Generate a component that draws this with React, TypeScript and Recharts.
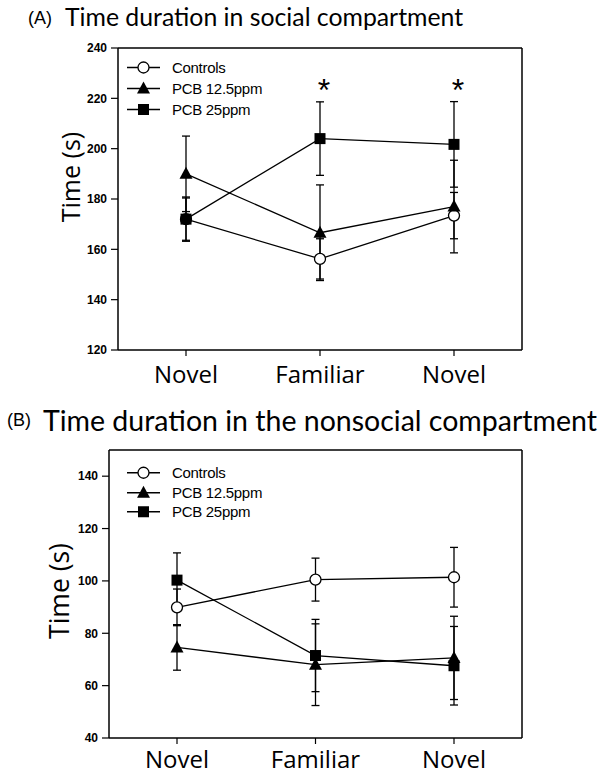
import React from 'react';
import { LineChart, Line, XAxis, YAxis, ErrorBar, CartesianGrid, Legend } from 'recharts';

const categories = ['Novel', 'Familiar', 'Novel'];
const seriesNames = ['Controls', 'PCB 12.5ppm', 'PCB 25ppm'];

// Panel A: social compartment
const socialControls = [172, 156.2, 173.4];
const socialControlsErr = [8.8, 8, 9.2];
const socialPcb125 = [190, 166.6, 177];
const socialPcb125Err = [15, 19, 18.4];
const socialPcb25 = [172, 204, 201.7];
const socialPcb25Err = [8.4, 14.6, 17];
const socialStars = [null, 226, 226];
const socialDomain = [120, 240];
const socialTicks = [120, 140, 160, 180, 200, 220, 240];

// Panel B: nonsocial compartment
const nonsocialControls = [89.9, 100.5, 101.4];
const nonsocialControlsErr = [7, 8.2, 11.4];
const nonsocialPcb125 = [74.6, 68, 70.6];
const nonsocialPcb125Err = [8.7, 15.6, 15.9];
const nonsocialPcb25 = [100.3, 71.5, 67.6];
const nonsocialPcb25Err = [10.4, 13.8, 15];
const nonsocialDomain = [40, 150];
const nonsocialTicks = [40, 60, 80, 100, 120, 140];

const dataA = categories.map((c, i) => ({
  cat: c,
  ctl: socialControls[i], ctlErr: socialControlsErr[i],
  p125: socialPcb125[i], p125Err: socialPcb125Err[i],
  p25: socialPcb25[i], p25Err: socialPcb25Err[i],
  star: socialStars[i],
}));

const dataB = categories.map((c, i) => ({
  cat: c,
  ctl: nonsocialControls[i], ctlErr: nonsocialControlsErr[i],
  p125: nonsocialPcb125[i], p125Err: nonsocialPcb125Err[i],
  p25: nonsocialPcb25[i], p25Err: nonsocialPcb25Err[i],
}));

const CircleDot = (p: any) =>
  p.cx == null || p.cy == null ? null : (
    <circle key={p.key} cx={p.cx} cy={p.cy} r={5.5} fill="#fff" stroke="#000" strokeWidth={1.3} />
  );
const TriDot = (p: any) =>
  p.cx == null || p.cy == null ? null : (
    <polygon key={p.key} points={`${p.cx},${p.cy - 7} ${p.cx - 6.5},${p.cy + 5} ${p.cx + 6.5},${p.cy + 5}`} fill="#000" />
  );
const SqDot = (p: any) =>
  p.cx == null || p.cy == null ? null : (
    <rect key={p.key} x={p.cx - 5.5} y={p.cy - 5.5} width={11} height={11} fill="#000" />
  );
const StarDot = (p: any) =>
  p.cx == null || p.cy == null || p.value == null ? null : (
    <text key={p.key} x={p.cx + 4} y={p.cy + 18} textAnchor="middle" fontFamily="Liberation Sans, Arial" fontSize={32} fill="#000">*</text>
  );

const markers = [
  (x: number, y: number) => <circle cx={x} cy={y} r={5.5} fill="#fff" stroke="#000" strokeWidth={1.3} />,
  (x: number, y: number) => <polygon points={`${x},${y - 7} ${x - 6.5},${y + 5} ${x + 6.5},${y + 5}`} fill="#000" />,
  (x: number, y: number) => <rect x={x - 5.5} y={y - 5.5} width={11} height={11} fill="#000" />,
];

const makeLegend = (rowGap: number) => () => (
  <div style={{ display: 'flex', flexDirection: 'column' }}>
    {seriesNames.map((n, i) => (
      <div key={n} style={{ display: 'flex', alignItems: 'center', height: rowGap }}>
        <svg width={45} height={rowGap} style={{ display: 'block' }}>
          <line x1={0} x2={33} y1={rowGap / 2} y2={rowGap / 2} stroke="#000" strokeWidth={1.3} />
          {markers[i](16.5, rowGap / 2)}
        </svg>
        <span style={{ fontFamily: 'Liberation Sans, Arial', fontSize: 15, color: '#000', letterSpacing: -0.3, whiteSpace: 'nowrap' }}>{n}</span>
      </div>
    ))}
  </div>
);

const tickStyle = { fontFamily: 'Liberation Sans, Arial', fontSize: 12, fontWeight: 700, fill: '#000' };
const catTickStyle = { fontFamily: 'Open Sans', fontSize: 24, fill: '#000' };

const yLabel = (cx: number, dyc: number, fs: number) => (props: any) => {
  const vb = props.viewBox;
  const y = vb.y + vb.height / 2 + dyc;
  return (
    <text x={cx} y={y} transform={`rotate(-90, ${cx}, ${y})`} textAnchor="middle" dominantBaseline="central" fontFamily="Open Sans" fontSize={fs} fill="#000">
      Time (s)
    </text>
  );
};

const frameTop = ({ offset }: any) => [offset.top];
const frameRight = ({ offset }: any) => [offset.left + offset.width];

const Panel = ({ data, domain, ticks, stars, legendTop, rowGap, marginTop, yWidth, height, plotH, labelX, labelDy, labelFs, xTickMargin }: any) => (
  <LineChart width={602} height={height} data={data} margin={{ top: marginTop, right: 80, bottom: 0, left: 0 }}>
    <CartesianGrid horizontalCoordinatesGenerator={frameTop} verticalCoordinatesGenerator={frameRight}
      stroke="#000" strokeWidth={1.5} strokeDasharray="" />
    <XAxis dataKey="cat" padding={{ left: 68, right: 68 }} tick={catTickStyle} tickSize={6} tickMargin={xTickMargin}
      axisLine={{ stroke: '#000', strokeWidth: 1.5 }} tickLine={{ stroke: '#000', strokeWidth: 1.2 }} height={height - marginTop - plotH} />
    <YAxis domain={domain} ticks={ticks} width={yWidth} tick={tickStyle} tickSize={7} tickMargin={4} allowDataOverflow
      axisLine={{ stroke: '#000', strokeWidth: 1.5 }} tickLine={{ stroke: '#000', strokeWidth: 1.2 }} label={{ content: yLabel(labelX, labelDy, labelFs) }} />
    <Legend layout="horizontal" verticalAlign="middle" align="center" content={makeLegend(rowGap)}
      wrapperStyle={{ position: 'absolute', left: 127, top: legendTop, width: 200 }} />
    <Line dataKey="ctl" stroke="#000" strokeWidth={1.3} dot={CircleDot} activeDot={false} isAnimationActive={false}>
      <ErrorBar dataKey="ctlErr" direction="y" width={4} stroke="#000" strokeWidth={1.3} />
    </Line>
    <Line dataKey="p125" stroke="#000" strokeWidth={1.3} dot={TriDot} activeDot={false} isAnimationActive={false}>
      <ErrorBar dataKey="p125Err" direction="y" width={4} stroke="#000" strokeWidth={1.3} />
    </Line>
    <Line dataKey="p25" stroke="#000" strokeWidth={1.3} dot={SqDot} activeDot={false} isAnimationActive={false}>
      <ErrorBar dataKey="p25Err" direction="y" width={4} stroke="#000" strokeWidth={1.3} />
    </Line>
    {stars && (
      <Line dataKey="star" stroke="none" dot={StarDot} activeDot={false} legendType="none" isAnimationActive={false} />
    )}
  </LineChart>
);

const titleStyle: React.CSSProperties = { position: 'absolute', fontFamily: 'Lato', color: '#000', whiteSpace: 'nowrap', lineHeight: 1 };
const tagStyle: React.CSSProperties = { position: 'absolute', fontFamily: 'Liberation Sans, Arial', color: '#000', whiteSpace: 'nowrap', lineHeight: 1 };

export default function App() {
  return (
    <div style={{ position: 'absolute', left: 0, top: 0, width: 602, height: 774, background: '#fff', overflow: 'hidden' }}>
      <div style={{ position: 'absolute', left: 0, top: 0 }}>
        <Panel data={dataA} domain={socialDomain} ticks={socialTicks} stars legendTop={57} rowGap={21}
          marginTop={48} yWidth={118} height={395} plotH={302} labelX={70} labelDy={-22} labelFs={25} xTickMargin={10} />
      </div>
      <div style={{ position: 'absolute', left: 0, top: 390 }}>
        <Panel data={dataB} domain={nonsocialDomain} ticks={nonsocialTicks} stars={false} legendTop={73} rowGap={19.5}
          marginTop={60} yWidth={109} height={384} plotH={288} labelX={59} labelDy={-3} labelFs={26.5} xTickMargin={7} />
      </div>
      <div style={{ ...tagStyle, left: 28, top: 9, fontSize: 18 }}>(A)</div>
      <div style={{ ...titleStyle, left: 65, top: 5, fontSize: 24.8 }}>Time duration in social compartment</div>
      <div style={{ ...tagStyle, left: 7, top: 411, fontSize: 18 }}>(B)</div>
      <div style={{ ...titleStyle, left: 43, top: 406, fontSize: 28.5 }}>Time duration in the nonsocial compartment</div>
    </div>
  );
}
